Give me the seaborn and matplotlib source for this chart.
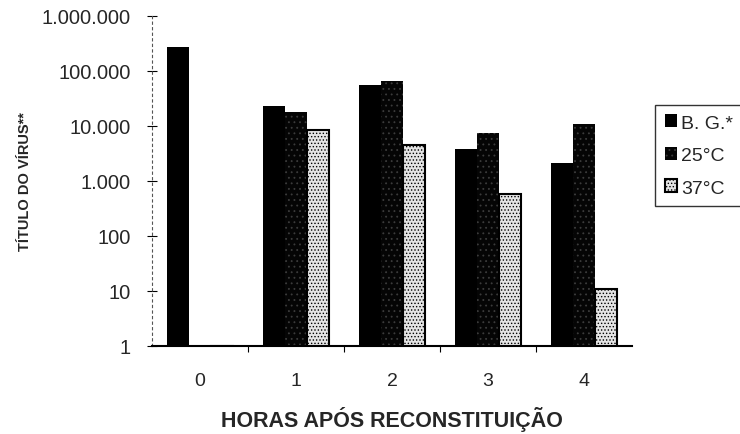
import matplotlib
matplotlib.use('Agg')
from matplotlib import pyplot as plt
from matplotlib.ticker import FuncFormatter, FixedLocator, NullLocator
import seaborn as sns
import pandas as pd

# virus titre per hour after reconstitution
horas = ['0', '1', '2', '3', '4']
titulo_bg = [275000, 22900, 55000, 3800, 2130]
titulo_25 = [1, 18200, 65000, 7600, 10700]
titulo_37 = [1, 8500, 4550, 570, 10.8]
condicoes = ['B. G.*', '25°C', '37°C']

df = pd.DataFrame({
    'hora': horas * 3,
    'titulo': titulo_bg + titulo_25 + titulo_37,
    'cond': [c for c in condicoes for _ in horas],
})

sns.set_style('white')
plt.rcParams['font.family'] = ['Liberation Sans', 'DejaVu Sans']
plt.rcParams['hatch.linewidth'] = 0.6

fig = plt.figure(figsize=(7.4, 4.35), dpi=100)
ax = fig.add_axes([0.2054, 0.2023, 0.6486, 0.7587])
ax.set_yscale('log')
sns.barplot(data=df, x='hora', y='titulo', hue='cond', hue_order=condicoes,
            order=horas, errorbar=None, width=0.69, ax=ax, legend=False,
            palette=['black', 'black', 'white'])

# stipple fills like the old print
styles = [dict(facecolor='black', edgecolor='black', hatch=None, lw=0),
          dict(facecolor='#050505', edgecolor='#3c3c3c', hatch='...', lw=0),
          dict(facecolor='#e4e4e4', edgecolor='black', hatch='.....', lw=1.5)]
for cont, st in zip(ax.containers, styles):
    for p in cont.patches:
        p.set_facecolor(st['facecolor'])
        p.set_edgecolor(st['edgecolor'])
        p.set_hatch(st['hatch'])
        p.set_linewidth(st['lw'])

ax.set_ylim(1, 1e6)
ax.set_xlim(-0.5, 4.5)
ax.yaxis.set_major_locator(FixedLocator([1, 10, 100, 1e3, 1e4, 1e5, 1e6]))
ax.yaxis.set_minor_locator(NullLocator())
ax.yaxis.set_major_formatter(FuncFormatter(lambda v, _: f'{int(v):,}'.replace(',', '.')))
ax.xaxis.set_minor_locator(FixedLocator([0.5, 1.5, 2.5, 3.5]))

ax.tick_params(axis='y', which='major', direction='inout', length=7, width=0.8,
               left=True, pad=12, labelsize=14.5, color='black')
ax.tick_params(axis='x', which='major', length=0, pad=19, labelsize=14)
ax.tick_params(axis='x', which='minor', direction='out', length=4, width=0.8,
               bottom=True, color='black')

for s in ['top', 'right']:
    ax.spines[s].set_visible(False)
ax.spines['bottom'].set_color('black')
ax.spines['bottom'].set_linewidth(1.5)
ax.spines['left'].set_color('#555555')
ax.spines['left'].set_linewidth(0.8)
ax.spines['left'].set_linestyle((0, (2, 3)))

ax.set_xlabel('HORAS APÓS RECONSTITUIÇÃO', fontsize=15.5, fontweight='bold', labelpad=12)
ax.set_ylabel('TÍTULO DO VÍRUS**', fontsize=10.5, fontweight='bold', labelpad=7)

handles = [cont.patches[1] for cont in ax.containers]
leg = fig.legend(handles, condicoes, loc='upper left', bbox_to_anchor=(0.885, 0.757, 0.2, 0),
                 mode='expand', fontsize=14, handlelength=0.65, handleheight=0.65,
                 handletextpad=0.2, labelspacing=0.78, borderpad=0.5, frameon=True,
                 fancybox=False, borderaxespad=0)
leg.get_frame().set_edgecolor('black')
leg.get_frame().set_linewidth(1.0)

fig.savefig('out.png', dpi=100)
